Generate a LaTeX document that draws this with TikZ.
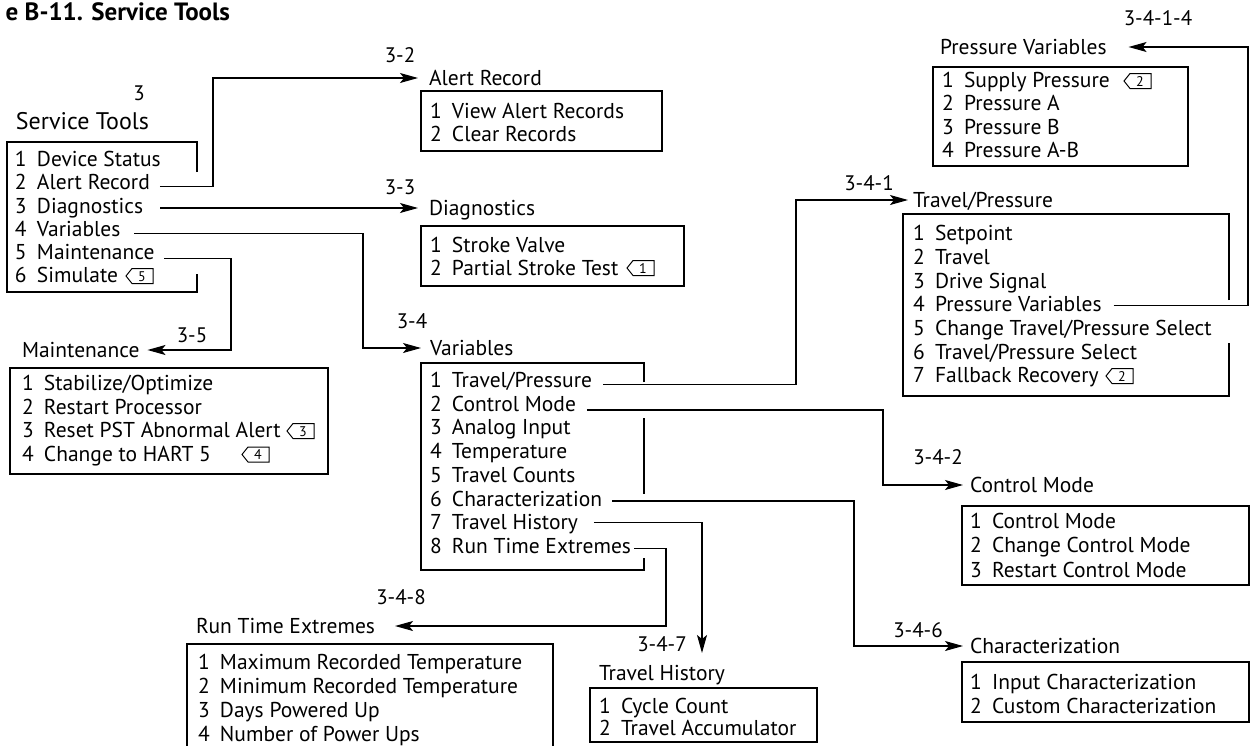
\documentclass[tikz,border=0pt]{standalone}
\usepackage{fontspec}
\setmainfont{PT Sans}
\usetikzlibrary{arrows.meta,calc}
\newcommand\menuitem[2]{\makebox[22pt][l]{#1}#2}
\newcommand\tagshape[1]{\draw[line width=1pt] (#1.west) -- ([xshift=6pt]#1.north west) -- (#1.north east) -- (#1.south east) -- ([xshift=6pt]#1.south west) -- cycle;}
\begin{document}
\begin{tikzpicture}[x=1pt,y=-1pt,
  every node/.style={inner sep=0pt, outer sep=0pt},
  itm/.style={anchor=west, text height=15pt, text depth=0pt, font=\fontsize{21.5}{24}\selectfont},
  hd/.style={itm},
  lbl/.style={anchor=center, font=\fontsize{21}{24}\selectfont},
  box/.style={draw=black, line width=1.1pt},
  arr/.style={draw=black, line width=1.1pt, -{Stealth[length=18pt,width=10pt,inset=4pt]}},
  tagb/.style={anchor=west, minimum width=27pt, minimum height=15pt, text height=10pt, text depth=0pt,
    font=\fontsize{14}{14}\selectfont},
]
\useasboundingbox (0,0) rectangle (1251,745);
\fill[white] (0,0) rectangle (1251,745);

% title
\node[anchor=base east, font=\fontsize{25}{25}\selectfont\bfseries] (title) at (230,20) {e B-11. Service Tools};

% ---------------- Service Tools
\node[lbl] (l3) at (139,93) {3};
\node[hd, font=\fontsize{24}{24}\selectfont] (hST) at (16,122) {Service Tools};
\draw[box] (197,172) -- (197,142) -- (7,142) -- (7,292) -- (197,292) -- (197,274);
\node[itm] (st1) at (15,159) {\menuitem{1}{Device Status}};
\node[itm] (st2) at (15,182) {\menuitem{2}{Alert Record}};
\node[itm] (st3) at (15,205.5) {\menuitem{3}{Diagnostics}};
\node[itm] (st4) at (15,229) {\menuitem{4}{Variables}};
\node[itm] (st5) at (15,252) {\menuitem{5}{Maintenance}};
\node[itm] (st6) at (15,275) {\menuitem{6}{Simulate}};
\node[tagb] (tg5) at (126,276) {\hspace*{5pt}5};
\tagshape{tg5}

% ---------------- Alert Record
\node[hd] (hAR) at (429,78) {Alert Record};
\draw[box] (421,91) rectangle (662,151);
\node[itm] (ar1) at (430,111) {\menuitem{1}{View Alert Records}};
\node[itm] (ar2) at (430,134) {\menuitem{2}{Clear Records}};

% ---------------- Diagnostics
\node[hd] (hDG) at (429,208) {Diagnostics};
\draw[box] (421,226) rectangle (684,286);
\node[itm] (dg1) at (430,245) {\menuitem{1}{Stroke Valve}};
\node[itm] (dg2) at (430,268) {\menuitem{2}{Partial Stroke Test}};
\node[tagb] (tg1) at (627,268) {\hspace*{5pt}1};
\tagshape{tg1}

% ---------------- Variables
\node[hd] (hVR) at (430,348) {Variables};
\draw[box] (644,382) -- (644,363) -- (421,363) -- (421,570) -- (644,570) -- (644,558);
\draw[box] (644,418) -- (644,494);
\node[itm] (vr1) at (430,380) {\menuitem{1}{Travel/Pressure}};
\node[itm] (vr2) at (430,403.7) {\menuitem{2}{Control Mode}};
\node[itm] (vr3) at (430,427.4) {\menuitem{3}{Analog Input}};
\node[itm] (vr4) at (430,451.1) {\menuitem{4}{Temperature}};
\node[itm] (vr5) at (430,474.8) {\menuitem{5}{Travel Counts}};
\node[itm] (vr6) at (430,498.5) {\menuitem{6}{Characterization}};
\node[itm] (vr7) at (430,522.2) {\menuitem{7}{Travel History}};
\node[itm] (vr8) at (430,545.9) {\menuitem{8}{Run Time Extremes}};

% ---------------- Maintenance
\node[hd] (hMT) at (22,350) {Maintenance};
\draw[box] (10,368) rectangle (328,474);
\node[itm] (mt1) at (22,383) {\menuitem{1}{Stabilize/Optimize}};
\node[itm] (mt2) at (22,406.5) {\menuitem{2}{Restart Processor}};
\node[itm] (mt3) at (22,430) {\menuitem{3}{Reset PST Abnormal Alert}};
\node[itm] (mt4) at (22,453.5) {\menuitem{4}{Change to HART 5}};
\node[tagb] (tg3) at (287,431) {\hspace*{5pt}3};
\tagshape{tg3}
\node[tagb] (tg4) at (242,454.5) {\hspace*{5pt}4};
\tagshape{tg4}

% ---------------- Pressure Variables
\node[hd] (hPV) at (940,47) {Pressure Variables};
\draw[box] (933,67) rectangle (1188,166);
\node[itm] (pv1) at (942,80) {\menuitem{1}{Supply Pressure}};
\node[itm] (pv2) at (942,103.3) {\menuitem{2}{Pressure A}};
\node[itm] (pv3) at (942,126.7) {\menuitem{3}{Pressure B}};
\node[itm] (pv4) at (942,150) {\menuitem{4}{Pressure A-B}};
\node[tagb] (tg2a) at (1124,81) {\hspace*{5pt}2};
\tagshape{tg2a}

% ---------------- Travel/Pressure
\node[hd] (hTP) at (913,200) {Travel/Pressure};
\draw[box] (1229,300) -- (1229,214) -- (903,214) -- (903,396) -- (1229,396) -- (1229,343);
\node[itm] (tp1) at (913,233.3) {\menuitem{1}{Setpoint}};
\node[itm] (tp2) at (913,257) {\menuitem{2}{Travel}};
\node[itm] (tp3) at (913,280.7) {\menuitem{3}{Drive Signal}};
\node[itm] (tp4) at (913,304.4) {\menuitem{4}{Pressure Variables}};
\node[itm] (tp5) at (913,328) {\menuitem{5}{Change Travel/Pressure Select}};
\node[itm] (tp6) at (913,351.7) {\menuitem{6}{Travel/Pressure Select}};
\node[itm] (tp7) at (913,375.4) {\menuitem{7}{Fallback Recovery}};
\node[tagb] (tg2b) at (1106,376) {\hspace*{5pt}2};
\tagshape{tg2b}

% ---------------- Control Mode
\node[hd] (hCM) at (970,485) {Control Mode};
\draw[box] (962,506) rectangle (1249,585);
\node[itm] (cm1) at (970,520.5) {\menuitem{1}{Control Mode}};
\node[itm] (cm2) at (970,545.2) {\menuitem{2}{Change Control Mode}};
\node[itm] (cm3) at (970,570) {\menuitem{3}{Restart Control Mode}};

% ---------------- Characterization
\node[hd] (hCH) at (970,646) {Characterization};
\draw[box] (962,662) rectangle (1249,722);
\node[itm] (ch1) at (970,682) {\menuitem{1}{Input Characterization}};
\node[itm] (ch2) at (970,706) {\menuitem{2}{Custom Characterization}};

% ---------------- Run Time Extremes
\node[hd] (hRT) at (196,626) {Run Time Extremes};
\draw[box] (187,770) -- (187,644) -- (553,644) -- (553,770);
\node[itm] (rt1) at (198,662) {\menuitem{1}{Maximum Recorded Temperature}};
\node[itm] (rt2) at (198,686) {\menuitem{2}{Minimum Recorded Temperature}};
\node[itm] (rt3) at (198,710) {\menuitem{3}{Days Powered Up}};
\node[itm] (rt4) at (198,733.5) {\menuitem{4}{Number of Power Ups}};

% ---------------- Travel History
\node[hd] (hTH) at (599,673) {Travel History};
\draw[box] (590,688) rectangle (817,742);
\node[itm] (th1) at (599,706) {\menuitem{1}{Cycle Count}};
\node[itm] (th2) at (599,728) {\menuitem{2}{Travel Accumulator}};

% ---------------- path labels
\node[lbl] (l32) at (400,55) {3-2};
\node[lbl] (l33) at (400,187) {3-3};
\node[lbl] (l34) at (412,321) {3-4};
\node[lbl] (l35) at (192,335) {3-5};
\node[lbl] (l341) at (869,183) {3-4-1};
\node[lbl] (l3414) at (1158,18) {3-4-1-4};
\node[lbl] (l342) at (938,457) {3-4-2};
\node[lbl] (l346) at (918,630) {3-4-6};
\node[lbl] (l347) at (662,644) {3-4-7};
\node[lbl] (l348) at (401,597.5) {3-4-8};

% ---------------- connectors
\coordinate (c32) at (213,0);
\coordinate (c34) at (363,0);
\coordinate (c35) at (231,0);
\coordinate (c341) at (796,0);
\coordinate (c342) at (883,0);
\coordinate (c346) at (854,0);
\coordinate (c347) at (702,653);
\coordinate (c348) at (666,0);
\coordinate (c3414) at (1248,0);

\draw[arr] ([shift={(10pt,-4.7pt)}]st2.east) -| (c32 |- hAR.west) -- ([xshift=-11pt]hAR.west);
\path (st3.east) ++(17pt,0pt) coordinate (s33);
\draw[arr] (s33 |- hDG.west) -- ([xshift=-11pt]hDG.west);
\draw[arr] ([shift={(14pt,-4.3pt)}]st4.east) -| (c34 |- hVR.west) -- ([xshift=-9pt]hVR.west);
\draw[arr] ([shift={(10pt,-6.3pt)}]st5.east) -| (c35 |- hMT.east) -- ([xshift=8pt]hMT.east);

\draw[arr] ([shift={(11pt,-4.3pt)}]vr1.east) -| (c341 |- hTP.west) -- ([xshift=-5pt]hTP.west);
\draw[arr] ([shift={(11pt,-6.3pt)}]vr2.east) -| (c342 |- hCM.west) -- ([xshift=-7pt]hCM.west);
\draw[arr] ([shift={(10pt,-2.5pt)}]vr6.east) -| (c346 |- hCH.west) -- ([xshift=-7pt]hCH.west);
\draw[arr] ([xshift=16pt]vr7.east) -| (c347);
\draw[arr] ([shift={(3pt,-2.4pt)}]vr8.east) -| (c348 |- hRT.east) -- ([xshift=20pt]hRT.east);
\draw[arr] ([shift={(12pt,-1pt)}]tp4.east) -| (c3414 |- hPV.east) -- ([xshift=22pt]hPV.east);
\end{tikzpicture}
\end{document}
